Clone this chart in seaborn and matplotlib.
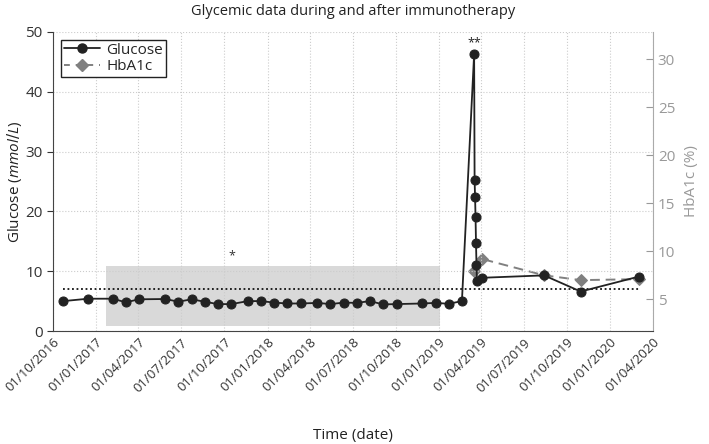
import numpy as np
import pandas as pd
import seaborn as sns
import matplotlib.pyplot as plt
import matplotlib.dates as mdates
from matplotlib.patches import Rectangle

glucose_dates = ["2016-10-23", "2016-12-15", "2017-02-05", "2017-03-05", "2017-04-02",
                 "2017-05-28", "2017-06-25", "2017-07-23", "2017-08-20", "2017-09-17",
                 "2017-10-16", "2017-11-20", "2017-12-18", "2018-01-15", "2018-02-12",
                 "2018-03-13", "2018-04-17", "2018-05-15", "2018-06-12", "2018-07-10",
                 "2018-08-07", "2018-09-04", "2018-10-03", "2018-11-26", "2018-12-25",
                 "2019-01-22", "2019-02-19",
                 "2019-03-17", "2019-03-18", "2019-03-19", "2019-03-20", "2019-03-21",
                 "2019-03-22", "2019-03-23",
                 "2019-04-03", "2019-08-13", "2019-10-30", "2020-03-02"]
glucose = [5.0, 5.4, 5.4, 4.8, 5.3, 5.35, 4.9, 5.3, 4.9, 4.5,
           4.5, 5.0, 5.0, 4.75, 4.6, 4.6, 4.7, 4.5, 4.75, 4.7,
           5.0, 4.45, 4.5, 4.6, 4.7, 4.55, 5.0,
           46.3, 25.2, 22.4, 19.1, 14.7, 11.1, 8.3,
           8.9, 9.3, 6.6, 9.1]

hba1c_dates = ["2019-03-17", "2019-04-03", "2019-08-13", "2019-10-30", "2020-03-02"]
hba1c = [8.0, 9.2, 7.5, 7.0, 7.1]

tick_dates = pd.date_range("2016-10-01", "2020-04-01", freq="3MS")
threshold = 7.0
shade_start, shade_end = "2017-01-22", "2019-01-03"
shade_low, shade_high = 0.9, 10.8

df_g = pd.DataFrame({"date": pd.to_datetime(glucose_dates), "glucose": glucose})
df_h = pd.DataFrame({"date": pd.to_datetime(hba1c_dates), "hba1c": hba1c})

sns.set_style("white")
plt.rcParams['font.family'] = ['Open Sans', 'DejaVu Sans']
plt.rcParams['mathtext.fontset'] = 'custom'
plt.rcParams['mathtext.it'] = 'Open Sans:italic'

fig = plt.figure(figsize=(7.09, 4.44), dpi=100)
ax = fig.add_axes([0.0748, 0.2545, 0.8462, 0.6735])
ax2 = ax.twinx()

# shaded period and threshold
x0 = mdates.date2num(pd.Timestamp(shade_start))
x1 = mdates.date2num(pd.Timestamp(shade_end))
ax.add_patch(Rectangle((x0, shade_low), x1 - x0, shade_high - shade_low,
                       facecolor="#d9d9d9", edgecolor="none", zorder=0))
ax.plot([df_g["date"].iloc[0], df_g["date"].iloc[-1]], [threshold, threshold],
        color="#111111", linestyle=(0, (1, 1.5)), linewidth=1.3, zorder=1)

sns.lineplot(data=df_g, x="date", y="glucose", ax=ax, color="#222222", marker="o",
             markersize=6.5, markeredgecolor="#222222", linewidth=1.3,
             estimator=None, sort=False, zorder=3, legend=False)
sns.lineplot(data=df_h, x="date", y="hba1c", ax=ax2, color="#808080", marker="D",
             markersize=6, markeredgecolor="#808080", linewidth=1.4,
             linestyle=(0, (5, 3)), estimator=None, sort=False, zorder=2, legend=False)

ax.set_xlim(tick_dates[0], tick_dates[-1])
ax.set_ylim(0, 50)
ax2.set_ylim(1.7, 32.85)
ax.set_xticks(tick_dates)
ax.set_xticklabels([d.strftime("%d/%m/%Y") for d in tick_dates], rotation=45,
                   ha="right", rotation_mode="anchor", fontsize=9.5, color="#222222")
ax.set_yticks([0, 10, 20, 30, 40, 50])
ax.tick_params(axis="y", labelsize=11, colors="#333333", direction="out", length=4)
ax.tick_params(axis="x", direction="in", length=5, colors="#333333")
ax2.set_yticks([5, 10, 15, 20, 25, 30])
ax2.tick_params(axis="y", labelsize=11, colors="#999999", direction="in", length=5)

ax.grid(True, linestyle=":", color="#cccccc", linewidth=0.8)
ax.set_axisbelow(True)
for s in ["top", "right"]:
    ax.spines[s].set_visible(False)
ax.spines["left"].set_color("#444444")
ax.spines["bottom"].set_color("#444444")
ax2.spines["top"].set_visible(False)
ax2.spines["left"].set_visible(False)
ax2.spines["bottom"].set_visible(False)
ax2.spines["right"].set_color("#aaaaaa")

ax.set_zorder(ax2.get_zorder() + 1)
ax.patch.set_visible(False)

ax.set_xlabel("Time (date)", fontsize=11, color="#222222", labelpad=24)
ax.set_ylabel(r"Glucose ($\mathit{mmol/L}$)", fontsize=11, color="#222222", labelpad=1)
ax2.set_ylabel("HbA1c (%)", fontsize=11, color="#999999", labelpad=6)
ax.set_title("Glycemic data during and after immunotherapy", fontsize=10.5,
             color="#222222", pad=12)

ax.text(pd.Timestamp("2017-10-16"), 12.0, "*", ha="center", fontsize=9, color="#333333")
ax.text(pd.Timestamp("2019-03-18"), 47.6, "**", ha="center", fontsize=9, color="#222222")

h1 = plt.Line2D([], [], color="#222222", marker="o", markersize=6.5, linewidth=1.3)
h2 = plt.Line2D([], [], color="#808080", marker="D", markersize=6, linewidth=1.4,
                linestyle=(0, (3, 3)))
leg = ax.legend([h1, h2], ["Glucose", "HbA1c"], loc="upper left", fontsize=11,
                frameon=True, fancybox=False, edgecolor="#222222", framealpha=1,
                borderaxespad=0.5, handlelength=2.4, handletextpad=0.4,
                borderpad=0.2, labelspacing=0.1)
leg.get_frame().set_linewidth(1.0)

fig.savefig("out.png", dpi=100)
